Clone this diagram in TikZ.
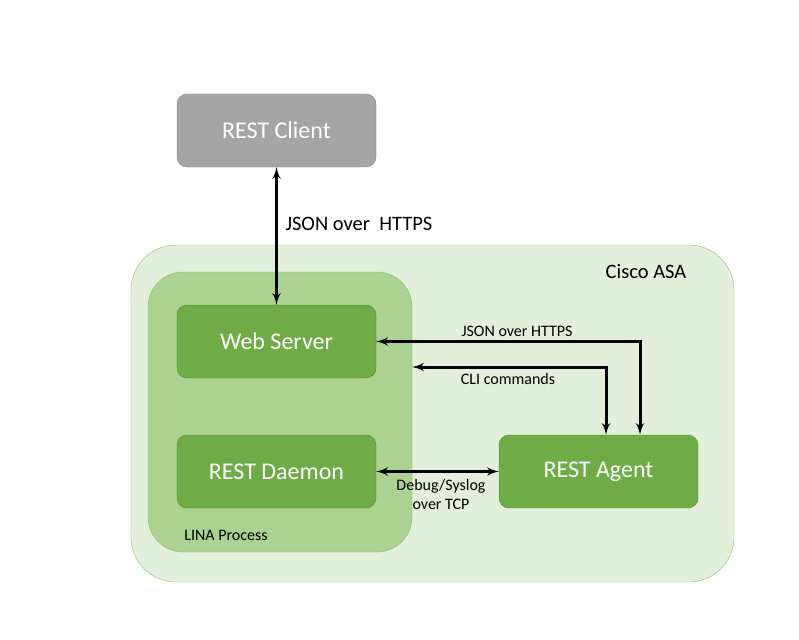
\documentclass[tikz,border=0pt]{standalone}
\usepackage{fontspec}
\setmainfont{Carlito}
\usepackage{xcolor}
\usetikzlibrary{arrows}
\tikzset{>=latex'}
\definecolor{asafill}{HTML}{E2EFDA}
\definecolor{asaline}{HTML}{8CBF68}
\definecolor{linafill}{HTML}{ABD291}
\definecolor{linaline}{HTML}{8CBF68}
\definecolor{boxfill}{HTML}{6FAC45}
\definecolor{boxline}{HTML}{548C35}
\definecolor{clientfill}{HTML}{A5A5A5}
\definecolor{clientline}{HTML}{7F7F7F}
\tikzset{
	part/.style={draw=boxline,fill=boxfill,rounded corners=10pt,minimum width=199pt,minimum height=73pt,text=white,font=\fontsize{24}{28}\selectfont},
	link/.style={<->,line width=3pt,black},
	small/.style={font=\fontsize{16}{19}\selectfont}
}

\begin{document}
\begin{tikzpicture}[x=1pt,y=-1pt]
	\useasboundingbox (0,0) rectangle (799,639);
	\node[draw=asaline,fill=asafill,rounded corners=45pt,minimum width=603pt,minimum height=337pt] (asa) at (432.5,413.5) {};
	\node[draw=linaline,fill=linafill,rounded corners=35pt,minimum width=264pt,minimum height=280pt] (lina) at (280,412) {};
	\node[part,draw=clientline,fill=clientfill] (client) at (276.5,130.5) {REST Client};
	\node[part] (web) at (276.5,341.5) {Web Server};
	\node[part] (daemon) at (276.5,471.5) {REST Daemon};
	\node[part] (agent) at (598.5,471.5) {REST Agent};
	\node[font=\fontsize{20.5}{24}\selectfont] (asalabel) at (646,272) {Cisco ASA};
	\node[small] (linalabel) at (226,535) {LINA Process};
	\draw[link] (client) -- (web);
	\node[font=\fontsize{20.5}{24}\selectfont,anchor=west] (httpslabel) at (282,224) {JSON over\ \ HTTPS};
	\draw[link] (web.east) -| ([xshift=41.5pt]agent.north);
	\node[small] (jsonlabel) at (517,331) {JSON over HTTPS};
	\draw[link] ([yshift=45pt]lina.east) -| ([xshift=7.5pt]agent.north);
	\node[small] (clilabel) at (508,379) {CLI commands};
	\draw[link] (daemon) -- (agent);
	\node[small,align=center] (debuglabel) at (441,494) {Debug/Syslog\\over TCP};
\end{tikzpicture}
\end{document}
